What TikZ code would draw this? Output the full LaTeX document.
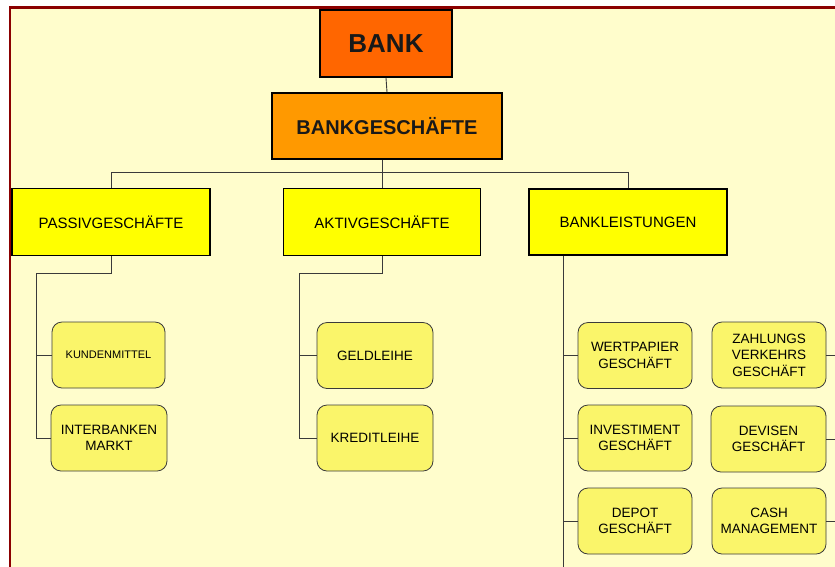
\documentclass[tikz,border=0pt]{standalone}
\usepackage{fontspec}
\setmainfont{Liberation Sans}
\definecolor{framered}{HTML}{8B0000}
\definecolor{paper}{HTML}{FFFDCC}
\definecolor{bankcol}{HTML}{FF6600}
\definecolor{gescol}{HTML}{FF9900}
\definecolor{maincol}{HTML}{FFFF00}
\definecolor{leafcol}{HTML}{FAF56A}
\definecolor{linecol}{HTML}{3A3A3A}
\begin{document}
\begin{tikzpicture} [x=1pt, y=-1pt, every text node part/.style={align=center}]
        \tikzset{
          topbox/.style={draw=black, line width=1.8pt, text=black!90,
            font=\bfseries},
          mainbox/.style={draw=black, line width=1.8pt, fill=maincol,
            minimum width=198pt, minimum height=67pt,
            font=\fontsize{15}{18}\selectfont},
          leafbox/.style={draw=linecol, line width=0.8pt, fill=leafcol,
            rounded corners=10pt, minimum width=114pt, minimum height=66pt,
            inner sep=1pt, font=\fontsize{13.5}{16.5}\selectfont},
          link/.style={draw=linecol, line width=0.9pt},
        }
        \useasboundingbox (0,0) rectangle (835,566);
        \clip (0,0) rectangle (835,566);
        \fill[paper] (10,7.5) rectangle (840,570);
        \draw[framered, line width=2.6pt] (10,7.5) rectangle (900,700);
        % 
        \node [topbox, fill=bankcol, minimum width=132pt, minimum height=67pt,
          font=\bfseries\fontsize{26}{30}\selectfont] (bank) at (386,43.5) {BANK};
        \node [topbox, fill=gescol, minimum width=230pt, minimum height=66pt,
          font=\bfseries\fontsize{20}{24}\selectfont] (gesch) at (387,126) {BANKGESCHÄFTE};
        \draw [link] (bank.south) -- (gesch.north);
        % 
        \node [mainbox] (passiv) at (111,222) {PASSIVGESCHÄFTE};
        \node [mainbox, minimum width=197pt] (aktiv) at (382,222) {AKTIVGESCHÄFTE};
        \node [mainbox, minimum height=66pt] (leist) at (628,222) {BANKLEISTUNGEN};
        \draw [link] (gesch.south -| aktiv.north) -- (aktiv.north);
        \draw [link] (passiv.north) -- ++(0,-15) -| (leist.north);
        % 
        \node [leafbox, minimum width=113pt, font=\fontsize{11}{13}\selectfont]
          (kunden) at (108.5,355) {KUNDENMITTEL};
        \node [leafbox, minimum width=116pt] (interbank) at (109,438) {INTERBANKEN\\MARKT};
        \coordinate (pv) at (36,273);
        \draw [link] (passiv.south) |- (pv) |- (interbank.west);
        \draw [link] (pv |- kunden.west) -- (kunden.west);
        % 
        \node [leafbox, minimum width=116pt] (geld) at (375,355.5) {GELDLEIHE};
        \node [leafbox, minimum width=116pt] (kredit) at (375,438) {KREDITLEIHE};
        \coordinate (av) at (299,273);
        \draw [link] (aktiv.south) |- (av) |- (kredit.west);
        \draw [link] (av |- geld.west) -- (geld.west);
        % 
        \node [leafbox] (wert) at (635,355.5) {WERTPAPIER\\GESCHÄFT};
        \node [leafbox] (invest) at (635,438) {INVESTIMENT\\GESCHÄFT};
        \node [leafbox] (depot) at (635,521) {DEPOT\\GESCHÄFT};
        \node [leafbox] (zahlung) at (769,355) {ZAHLUNGS\\VERKEHRS\\GESCHÄFT};
        \node [leafbox, minimum width=115pt] (devisen) at (768.5,439) {DEVISEN\\GESCHÄFT};
        \node [leafbox] (cash) at (769,521) {CASH\\MANAGEMENT};
        \coordinate (bl) at (563,570);
        \coordinate (edge) at (840,0);
        \draw [link] (leist.south -| bl) -- (bl);
        \draw [link] (bl |- wert.west) -- (wert.west);
        \draw [link] (bl |- invest.west) -- (invest.west);
        \draw [link] (bl |- depot.west) -- (depot.west);
        \draw [link] (zahlung.east) -- (zahlung.east -| edge);
        \draw [link] (devisen.east) -- (devisen.east -| edge);
        \draw [link] (cash.east) -- (cash.east -| edge);
    \end{tikzpicture}
\end{document}
